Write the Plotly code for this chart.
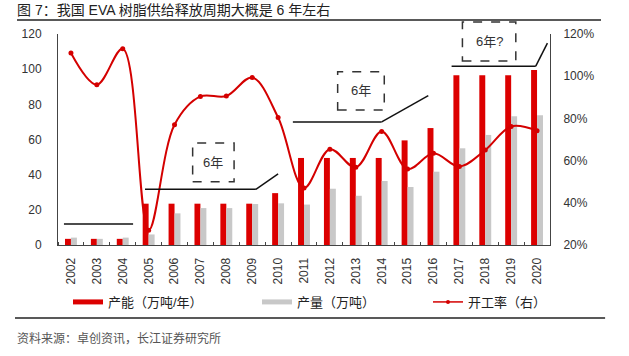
import plotly.graph_objects as go

# ---------------- data ----------------
years = list(range(2002, 2021))
year_labels = [str(y) for y in years]
capacity = [3.5, 3.5, 3.5, 23.5, 23.5, 23.5, 23.5, 23.5, 29.5, 49.5,
            49.5, 49.5, 49.5, 59.5, 66.5, 96.5, 96.5, 96.5, 99.5]
output = [4.2, 3.5, 4.2, 6, 18, 21, 21, 23.3, 23.7, 23,
          32, 28, 36.4, 33, 41.7, 55, 62.6, 73.2, 73.8]
utilization = [111, 96, 113, 27, 77, 90.4, 90.6, 99.4, 80.4, 47,
               65.4, 56.8, 73.8, 56, 63.5, 57.2, 65, 76.2, 74.1]

left_ticks = [0, 20, 40, 60, 80, 100, 120]
right_ticks = [20, 40, 60, 80, 100, 120]
right_tick_labels = [f"{v}%" for v in right_ticks]

RED = "#dc0000"
GRAY = "#c8c8c8"
LINE_RED = "#d40000"
CJK = "Liberation Sans, Arial, Noto Sans CJK SC"

fig = go.Figure()
fig.add_trace(go.Bar(x=years, y=capacity, marker=dict(color=RED, line=dict(width=0)),
                     name="产能（万吨/年）", showlegend=False, yaxis="y"))
fig.add_trace(go.Bar(x=years, y=output, marker=dict(color=GRAY, line=dict(width=0)),
                     name="产量（万吨）", showlegend=False, yaxis="y"))
fig.add_trace(go.Scatter(x=years, y=utilization, mode="lines+markers",
                         line=dict(color=LINE_RED, width=2, shape="spline", smoothing=1),
                         marker=dict(color=LINE_RED, size=5),
                         name="开工率（右）", showlegend=False, yaxis="y2"))

# legend-only entries
fig.add_trace(go.Scatter(x=[None], y=[None], mode="lines", line=dict(color=RED, width=5),
                         name="产能（万吨/年）", legend="legend"))
fig.add_trace(go.Scatter(x=[None], y=[None], mode="lines", line=dict(color=GRAY, width=5),
                         name="产量（万吨）", legend="legend2"))
fig.add_trace(go.Scatter(x=[None], y=[None], mode="lines+markers", line=dict(color=LINE_RED, width=1.5),
                         marker=dict(color=LINE_RED, size=4),
                         name="开工率（右）", legend="legend3", yaxis="y2"))

# cycle annotation lines (data coords)
line_style = dict(color="#111", width=1.5)
segments = [
    ((2001.73, 12), (2004.4, 12)),
    ((2004.86, 31.7), (2009.14, 31.7)),
    ((2009.14, 31.7), (2010.0, 40.4)),
    ((2010.57, 70), (2014.0, 70)),
    ((2014.0, 70), (2015.8, 85)),
    ((2016.7, 101.7), (2019.95, 101.7)),
    ((2019.95, 101.7), (2020.4, 114.8)),
]
for (x0, y0), (x1, y1) in segments:
    fig.add_shape(type="line", xref="x", yref="y", x0=x0, y0=y0, x1=x1, y1=y1, line=line_style)

box_style = dict(color="#333", width=1.5, dash="dash")
fig.add_shape(type="rect", xref="x", yref="y", x0=2006.7, x1=2008.3, y0=36, y1=58, line=box_style)
fig.add_shape(type="rect", xref="x", yref="y", x0=2012.3, x1=2014.1, y0=76.8, y1=98.6, line=box_style)
fig.add_shape(type="rect", xref="x domain", yref="y domain", x0=0.822, x1=0.9305, y0=0.8725, y1=1.057,
              line=box_style)

fig.add_annotation(x=2007.5, y=47, xref="x", yref="y", text="6年", showarrow=False,
                   font=dict(size=13, color="#333", family=CJK))
fig.add_annotation(x=2013.2, y=87.7, xref="x", yref="y", text="6年", showarrow=False,
                   font=dict(size=13, color="#333", family=CJK))
fig.add_annotation(x=2018.15, y=115.7, xref="x", yref="y", text="6年?", showarrow=False,
                   font=dict(size=13, color="#333", family=CJK))

# title underline and footer divider
fig.add_shape(type="line", xref="paper", yref="paper", x0=-0.0833, x1=1.1037, y0=1.066, y1=1.066,
              line=dict(color="#222", width=1.5))
fig.add_shape(type="line", xref="paper", yref="paper", x0=-0.0874, x1=1.112, y0=-0.346, y1=-0.346,
              line=dict(color="#222", width=1.5))

fig.add_annotation(x=-0.0874, y=-0.441, xref="paper", yref="paper", xanchor="left", yanchor="middle",
                   text="资料来源：卓创资讯，长江证券研究所", showarrow=False,
                   font=dict(size=12, color="#555", family=CJK))

leg_common = dict(orientation="h", yanchor="middle", y=-0.27, xanchor="left",
                  bgcolor="rgba(0,0,0,0)", font=dict(size=13, color="#222", family=CJK),
                  itemclick=False, itemdoubleclick=False)

fig.update_layout(
    width=629, height=356,
    margin=dict(l=58, r=79, t=34, b=111, autoexpand=False),
    paper_bgcolor="white", plot_bgcolor="white",
    barmode="group", bargap=0.54, bargroupgap=0,
    font=dict(family=CJK, size=12, color="#333"),
    title=dict(text="图 7：我国 EVA 树脂供给释放周期大概是 6 年左右", x=17/629, y=1-10/356,
               xanchor="left", yanchor="middle", xref="container", yref="container",
               font=dict(size=14, color="#222", family=CJK)),
    xaxis=dict(range=[2001.5, 2020.5], tickmode="array", tickvals=years, ticktext=year_labels,
               tickangle=-90, showline=True, linecolor="#444", linewidth=1, ticks="",
               minor=dict(tick0=2001.5, dtick=1, ticks="inside", ticklen=3, tickcolor="#444"),
               showgrid=False, zeroline=False, ticklabelstandoff=7, automargin=False,
               tickfont=dict(size=12, color="#333")),
    yaxis=dict(range=[0, 120], tickmode="array", tickvals=left_ticks, showline=True,
               linecolor="#444", linewidth=1, showgrid=False, zeroline=False, ticks="",
               ticklabelstandoff=13, automargin=False, tickfont=dict(size=12, color="#333")),
    yaxis2=dict(range=[20, 120], tickmode="array", tickvals=right_ticks, ticktext=right_tick_labels,
                overlaying="y", side="right", showline=True, linecolor="#444", linewidth=1,
                showgrid=False, zeroline=False, ticks="", ticklabelstandoff=10, automargin=False,
                tickfont=dict(size=12, color="#333")),
    legend=dict(x=(68-58)/492, **leg_common),
    legend2=dict(x=(257-58)/492, **leg_common),
    legend3=dict(x=(428-58)/492, **leg_common),
)

fig.write_html("out.html", config={"displayModeBar": False},
               post_script="document.body.style.margin='0';")
